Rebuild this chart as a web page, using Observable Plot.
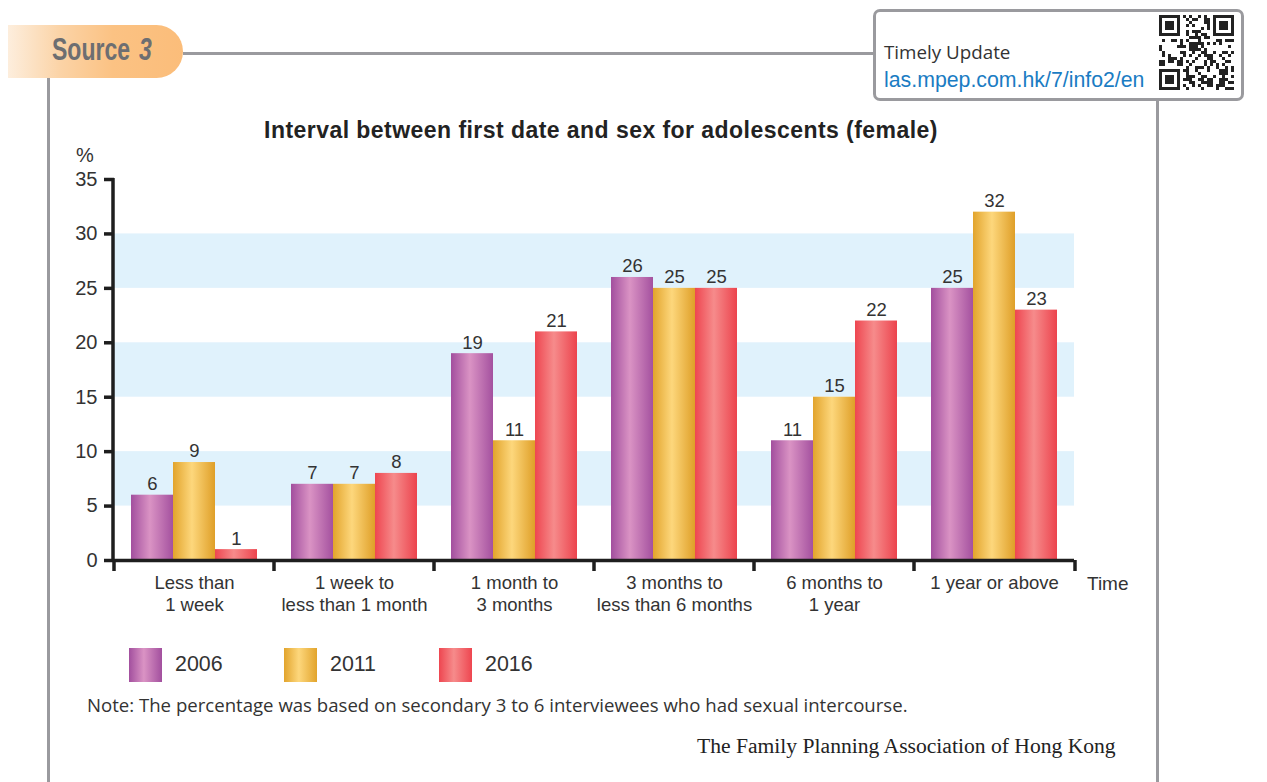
<!DOCTYPE html>
<html>
<head>
<meta charset="utf-8">
<script src="https://cdn.jsdelivr.net/npm/d3@7"></script>
<script src="https://cdn.jsdelivr.net/npm/@observablehq/plot@0.6"></script>
<style>
  html, body { margin: 0; padding: 0; background: #fff; }
  #root { position: relative; width: 1267px; height: 782px; overflow: hidden; font-family: "Liberation Sans", Arial, sans-serif; color: #333; }
  .abs { position: absolute; }
  .gline { position: absolute; background: #9a9a9e; }
  #tab { left: 8px; top: 25px; width: 175px; height: 53px; border-radius: 0 27px 27px 0;
         background: linear-gradient(to right, #fdeedd 0%, #fbd3a6 30%, #fbc283 60%, #fbbd7a 100%); }
  #tab span { position: absolute; top: 6px; font-family: "Liberation Sans", Arial, sans-serif; font-weight: bold; font-size: 32px; color: #6d6e71; transform-origin: 0 0; transform: scaleX(0.72); white-space: nowrap; }
  #box { left: 873px; top: 9px; width: 365px; height: 86px; border: 3px solid #9a9a9e; border-radius: 7px; background: #fff; }
  .sw { position: absolute; width: 33px; height: 34px; }
  .lg { position: absolute; font-size: 21.4px; color: #333; line-height: 1; }
</style>
</head>
<body>
<svg width="0" height="0" style="position:absolute">
  <defs>
    <linearGradient id="g2006" x1="0" x2="1" y1="0" y2="0">
      <stop offset="0" stop-color="#a24f9e"/>
      <stop offset="0.45" stop-color="#da93c4"/>
      <stop offset="1" stop-color="#a4519f"/>
    </linearGradient>
    <linearGradient id="g2011" x1="0" x2="1" y1="0" y2="0">
      <stop offset="0" stop-color="#e2a42c"/>
      <stop offset="0.45" stop-color="#fdd77c"/>
      <stop offset="1" stop-color="#df9f28"/>
    </linearGradient>
    <linearGradient id="g2016" x1="0" x2="1" y1="0" y2="0">
      <stop offset="0" stop-color="#ee4650"/>
      <stop offset="0.45" stop-color="#f68b8b"/>
      <stop offset="1" stop-color="#ec434d"/>
    </linearGradient>
  </defs>
</svg>
<div id="root">
  <div class="gline" style="left:183px; top:52px; width:692px; height:3px;"></div>
  <div class="gline" style="left:47px; top:78px; width:3px; height:704px;"></div>
  <div class="gline" style="left:1156px; top:98px; width:3px; height:684px;"></div>
  <div id="tab" class="abs"><span style="left:44px;">Source</span><span style="left:131px; font-style:italic;">3</span></div>
  <div id="box" class="abs">
    <div class="abs" style="left:8px; top:27px; font-family:'Open Sans', sans-serif; font-size:18.8px; color:#333; white-space:nowrap;">Timely Update</div>
    <div class="abs" style="left:8px; top:56px; font-family:'Liberation Sans', Arial, sans-serif; font-size:21.3px; color:#1a7cc3; white-space:nowrap;">las.mpep.com.hk/7/info2/en</div>
    <svg id="qr" class="abs" style="left:283px; top:3px;" width="76" height="76"></svg>
  </div>
  <div id="title" class="abs" style="left:0; width:1202px; top:117px; text-align:center; font-weight:bold; font-size:23px; letter-spacing:0.45px; color:#222; white-space:nowrap;"></div>
  <div class="abs" style="left:76px; top:144px; font-size:20px; color:#333;">%</div>
  <div class="abs" style="left:1087px; top:573px; font-size:19px; color:#333;">Time</div>
  <div id="chart" class="abs" style="left:0; top:140px;"></div>
  <div id="legend"></div>
  <div id="note" class="abs" style="left:87px; top:692px; font-family:'Open Sans', sans-serif; font-size:18.6px; color:#333; white-space:nowrap;"></div>
  <div id="source" class="abs" style="left:697px; top:734px; font-family:'Liberation Serif', 'Times New Roman', serif; font-size:21.6px; color:#222; white-space:nowrap;"></div>
</div>
<script>
// ---- data ----
const titleText = "Interval between first date and sex for adolescents (female)";
const categories = ["Less than\n1 week", "1 week to\nless than 1 month", "1 month to\n3 months", "3 months to\nless than 6 months", "6 months to\n1 year", "1 year or above"];
const years = ["2006", "2011", "2016"];
const values2006 = [6, 7, 19, 26, 11, 25];
const values2011 = [9, 7, 11, 25, 15, 32];
const values2016 = [1, 8, 21, 25, 22, 23];
const yTicks = [0, 5, 10, 15, 20, 25, 30, 35];
const shadedBandStarts = [5, 15, 25];
const bandSpan = 5;
const noteText = "Note: The percentage was based on secondary 3 to 6 interviewees who had sexual intercourse.";
const sourceText = "The Family Planning Association of Hong Kong";

const seriesByYear = {"2006": values2006, "2011": values2011, "2016": values2016};
const rows = categories.flatMap((cat, i) => years.map(year => ({cat, year, value: seriesByYear[year][i]})));
const gradients = years.map(y => `url(#g${y})`);

document.getElementById("title").textContent = titleText;
document.getElementById("note").textContent = noteText;
document.getElementById("source").textContent = sourceText;

const plot = Plot.plot({
  width: 1267,
  height: 480,
  marginLeft: 113,
  marginRight: 192,
  marginTop: 39,
  marginBottom: 60,
  style: {fontFamily: "'Liberation Sans', Arial, sans-serif", fontSize: "18px", color: "#333", background: "transparent"},
  fx: {domain: categories, padding: 0, label: null},
  x: {domain: years, paddingInner: 0, paddingOuter: 0.364, axis: null},
  y: {domain: [0, 35], label: null},
  color: {domain: years, range: gradients},
  marks: [
    Plot.barY(shadedBandStarts, {y1: d => d, y2: d => d + bandSpan, fill: "#e0f2fc"}),
    Plot.barY(rows, {fx: "cat", x: "year", y: "value", fill: "year"}),
    Plot.text(rows, {fx: "cat", x: "year", y: "value", text: d => String(d.value), dy: -11, fontSize: 18.5, fill: "#333"}),
    Plot.ruleY([0], {stroke: "#1e1e1e", strokeWidth: 3.5}),
    Plot.axisY({ticks: yTicks, tickSize: 10, tickPadding: 7, fontSize: 20, stroke: "#1e1e1e", strokeWidth: 3.5, label: null}),
    Plot.axisFx({anchor: "bottom", tickSize: 0, tickPadding: 13, fontSize: 18.5, lineHeight: 1.19, label: null})
  ]
});
document.getElementById("chart").appendChild(plot);

// axis line and category-boundary ticks, positioned from Plot's scales
const fx = plot.scale("fx"), ys = plot.scale("y");
const x0 = fx.range[0], x1 = fx.range[1];
const bounds = categories.map(c => fx.apply(c)).concat([x1]);
const g = d3.select(plot).append("g").attr("stroke", "#1e1e1e").attr("stroke-width", 3.5);
g.append("line").attr("x1", x0).attr("x2", x0).attr("y1", ys.apply(35) - 1).attr("y2", ys.apply(0) + 1.75);
g.selectAll("line.b").data(bounds).join("line").attr("class", "b")
  .attr("x1", d => d).attr("x2", d => d).attr("y1", ys.apply(0)).attr("y2", ys.apply(0) + 11);

// legend
const legend = document.getElementById("legend");
const legendX = [129, 284, 439];
years.forEach((y, i) => {
  const sw = document.createElement("div");
  sw.className = "sw";
  sw.style.left = legendX[i] + "px";
  sw.style.top = "648px";
  const stops = {"2006": ["#a24f9e", "#da93c4"], "2011": ["#e2a42c", "#fdd77c"], "2016": ["#ee4650", "#f68b8b"]}[y];
  sw.style.background = `linear-gradient(to right, ${stops[0]}, ${stops[1]} 45%, ${stops[0]})`;
  legend.appendChild(sw);
  const t = document.createElement("div");
  t.className = "lg";
  t.style.left = (legendX[i] + 46) + "px";
  t.style.top = "654px";
  t.textContent = y;
  legend.appendChild(t);
});

// decorative QR-like pattern
(function () {
  const svg = d3.select("#qr");
  const n = 25, s = 3;
  const finder = (r, c) => {
    const f = (r0, c0) => {
      const dr = r - r0, dc = c - c0;
      if (dr < 0 || dr > 6 || dc < 0 || dc > 6) return null;
      const m = Math.max(Math.abs(dr - 3), Math.abs(dc - 3));
      return m !== 2;
    };
    const a = f(0, 0), b = f(0, n - 7), d = f(n - 7, 0);
    if (a !== null) return a; if (b !== null) return b; if (d !== null) return d;
    if ((r === 7 && (c < 8 || c > n - 9)) || (c === 7 && (r < 8 || r > n - 9)) || (r === n - 8 && c < 8) || (c === n - 8 && r < 8)) return false;
    return null;
  };
  for (let r = 0; r < n; r++) for (let c = 0; c < n; c++) {
    let on = finder(r, c);
    if (on === null) on = (((r * 31 + c * 17) ^ (r * c * 7)) % 5) < 2;
    if (on) svg.append("rect").attr("x", c * s).attr("y", r * s).attr("width", s).attr("height", s).attr("fill", "#222");
  }
})();
</script>
</body>
</html>
